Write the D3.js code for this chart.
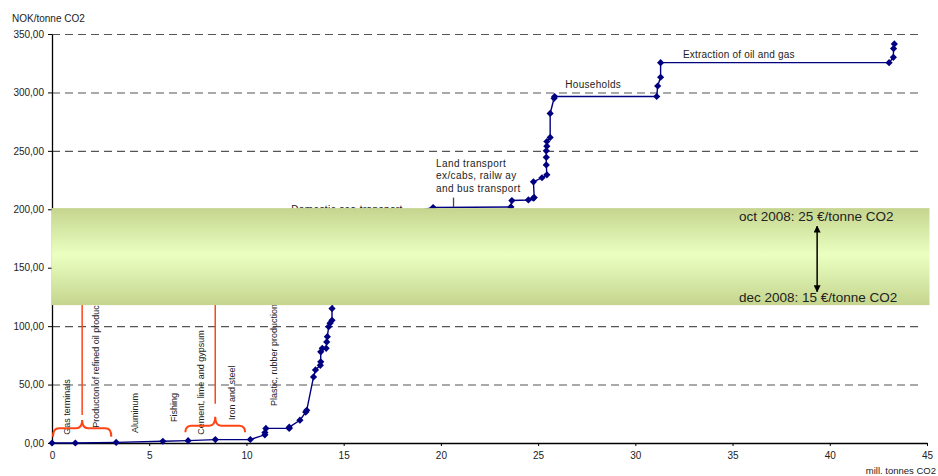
<!DOCTYPE html>
<html>
<head>
<meta charset="utf-8">
<script src="https://cdn.jsdelivr.net/npm/d3@7"></script>
<style>
  body { margin: 0; background: #fff; }
  text { font-family: "Liberation Sans", Arial, sans-serif; fill: #222; }
</style>
</head>
<body>
<script>
// Parameters
const width = 938;
const height = 476;
const margin = { top: 34, right: 11, bottom: 33, left: 52 };

// cumulative emissions (mill. tonnes CO2) and abatement cost (NOK/tonne CO2)
const emissions = [0, 1.2, 3.3, 5.7, 7.0, 8.4, 10.2, 10.95, 10.95, 11.0, 12.2, 12.2, 12.75, 13.05, 13.1,
  13.45, 13.55, 13.8, 13.82, 13.82, 13.9, 14.1, 14.13, 14.16, 14.23, 14.3, 14.4, 14.4, 14.5, 14.6, 14.8,
  15.1, 19.6, 23.6, 23.65, 24.5, 24.75, 24.8, 24.76, 25.2, 25.45, 25.42, 25.42, 25.42, 25.45, 25.45,
  25.62, 25.62, 25.82, 25.85, 31.1, 31.15, 31.3, 31.3, 43.05, 43.27, 43.28, 43.32];
const cost = [0, 0, 0.5, 1.5, 2, 2.9, 3, 7, 9, 12.5, 12.5, 13.5, 19.5, 26.5, 28,
  56.5, 62.5, 66.5, 69.5, 78, 81, 81, 86.5, 91, 99.5, 102.5, 105, 115, 125, 140, 160,
  185, 201.5, 202, 207.5, 208, 209.5, 210, 223.5, 227, 229.5, 238, 244.5, 250, 254, 258,
  261.5, 282, 295, 296.5, 296.5, 305.5, 313, 325.5, 325.5, 330, 337.5, 341.5];

const xTicks = [0, 5, 10, 15, 20, 25, 30, 35, 40, 45];
const yTicks = [0, 50, 100, 150, 200, 250, 300, 350];

// sectors written vertically near the bottom
const lowSectors = ['Gas terminals', 'Producton of refined oil products', 'Aluminum', 'Fishing',
  'Cement, lime and gypsum', 'Iron and steel', 'Plastic, rubber production'];
const lowSectorAt = [0.76, 2.25, 4.27, 6.28, 7.65, 9.24, 11.42];
const lowSectorBase = [7, 13, 8.5, 18, 7, 19.7, 31.7];

// CO2 price band (NOK/tonne)
const bandHigh = 201;
const bandLow = 118;
const bandLabels = ['oct 2008: 25 €/tonne CO2', 'dec 2008: 15 €/tonne CO2'];

const data = emissions.map((e, i) => ({ x: e, y: cost[i] }));

const svg = d3.select('body')
  .append('svg')
  .attr('width', width)
  .attr('height', height);

const x = d3.scaleLinear()
  .domain([0, 45])
  .range([margin.left, width - margin.right]);

const y = d3.scaleLinear()
  .domain([0, 350])
  .range([height - margin.bottom, margin.top]);

const loc = d3.formatLocale({ decimal: ',', thousands: ' ', grouping: [3], currency: ['', ''] });
const fmt = loc.format('.2f');

// grille
svg.append('g')
  .selectAll('line')
  .data(yTicks.filter(d => d > 0))
  .join('line')
  .attr('x1', x(0))
  .attr('x2', x(44.7))
  .attr('y1', d => y(d) + 0.5)
  .attr('y2', d => y(d) + 0.5)
  .attr('stroke', '#555')
  .attr('stroke-width', 1.1)
  .attr('stroke-dasharray', '8,5');

// axes
const xAxis = svg.append('g')
  .attr('transform', `translate(0, ${y(0)})`)
  .call(d3.axisBottom(x).tickValues(xTicks).tickSize(3).tickSizeOuter(0).tickPadding(6))
  .call(g => g.select('.domain').attr('stroke', '#000').attr('stroke-width', 1.3));
xAxis.selectAll('text').style('font-size', '10px').attr('fill', '#222');

const yAxis = svg.append('g')
  .attr('transform', `translate(${x(0)}, 0)`)
  .call(d3.axisLeft(y).tickValues(yTicks).tickFormat(fmt).tickSize(4).tickSizeOuter(0).tickPadding(4))
  .call(g => g.select('.domain').attr('stroke', '#000').attr('stroke-width', 1.3));
yAxis.selectAll('text').style('font-size', '10px').attr('fill', '#222');

svg.append('text')
  .attr('x', 12).attr('y', 22)
  .style('font-size', '10px')
  .text('NOK/tonne CO2');

svg.append('text')
  .attr('x', 936).attr('y', 474)
  .attr('text-anchor', 'end')
  .style('font-size', '9.5px')
  .text('mill. tonnes CO2');

// courbe
svg.append('path')
  .datum(data)
  .attr('fill', 'none')
  .attr('stroke', '#000080')
  .attr('stroke-width', 1.4)
  .attr('d', d3.line().x(d => x(d.x)).y(d => y(d.y)));

svg.append('g')
  .selectAll('path')
  .data(data)
  .join('path')
  .attr('transform', d => `translate(${x(d.x)}, ${y(d.y)}) rotate(45)`)
  .attr('d', d3.symbol(d3.symbolSquare, 26))
  .attr('fill', '#000080');

// vertical sector labels
svg.append('g')
  .selectAll('text')
  .data(lowSectors)
  .join('text')
  .attr('transform', (d, i) => `translate(${x(lowSectorAt[i]) + 3}, ${y(lowSectorBase[i])}) rotate(-90)`)
  .style('font-size', '9px')
  .text(d => d);

// horizontal sector labels
svg.append('g')
  .selectAll('text')
  .data(['Land transport', 'ex/cabs, railw ay', 'and bus transport'])
  .join('text')
  .attr('x', x(19.75))
  .attr('y', (d, i) => y(236.5) + i * 12.5)
  .style('font-size', '10px')
  .style('letter-spacing', '0.4px')
  .text(d => d);

svg.append('line')
  .attr('x1', x(20.65)).attr('x2', x(20.65))
  .attr('y1', y(210)).attr('y2', y(202))
  .attr('stroke', '#444').attr('stroke-width', 1.3);

svg.append('text')
  .attr('x', x(26.4)).attr('y', y(303.8))
  .style('font-size', '10px')
  .style('letter-spacing', '0.3px')
  .text('Households');

svg.append('text')
  .attr('x', x(32.45)).attr('y', y(329.2))
  .style('font-size', '10px')
  .style('letter-spacing', '0.2px')
  .text('Extraction of oil and gas');

svg.append('text')
  .attr('x', x(12.3)).attr('y', y(197))
  .style('font-size', '10px')
  .style('letter-spacing', '0.4px')
  .text('Domestic sea transport');

// accolades rouges
const brace = (x0, x1, yEnd, yH, yPeak) => {
  const xm = (x0 + x1) / 2, r = 6;
  return `M${x0},${yEnd} Q${x0},${yH} ${x0 + r},${yH} L${xm - r},${yH} Q${xm},${yH} ${xm},${yPeak}`
    + ` Q${xm},${yH} ${xm + r},${yH} L${x1 - r},${yH} Q${x1},${yH} ${x1},${yEnd}`;
};

const braces = [
  { a: 0.05, b: 3.05, end: 5.4, h: 12.6, peak: 19.7, top: 24 },
  { a: 6.86, b: 9.93, end: 9.2, h: 14.8, peak: 22.5, top: 33.5 }
];

svg.append('g')
  .selectAll('path')
  .data(braces)
  .join('path')
  .attr('d', d => brace(x(d.a), x(d.b), y(d.end), y(d.h), y(d.peak)))
  .attr('fill', 'none')
  .attr('stroke', '#ff4515')
  .attr('stroke-width', 2);

svg.append('g')
  .selectAll('line')
  .data(braces)
  .join('line')
  .attr('x1', d => x((d.a + d.b) / 2)).attr('x2', d => x((d.a + d.b) / 2))
  .attr('y1', d => y(d.top)).attr('y2', y(bandLow + 5))
  .attr('stroke', '#ff4515')
  .attr('stroke-width', 1.5);

// bande du prix CO2
const grad = svg.append('defs').append('linearGradient')
  .attr('id', 'band').attr('x1', 0).attr('x2', 0).attr('y1', 0).attr('y2', 1);
grad.append('stop').attr('offset', '0%').attr('stop-color', '#c5d58e');
grad.append('stop').attr('offset', '48%').attr('stop-color', '#eaffc1');
grad.append('stop').attr('offset', '100%').attr('stop-color', '#c5d58e');

svg.append('rect')
  .attr('x', x(0) - 0.5)
  .attr('width', 930 - x(0))
  .attr('y', y(bandHigh))
  .attr('height', y(bandLow) - y(bandHigh))
  .attr('fill', 'url(#band)');

svg.append('g')
  .selectAll('text')
  .data(bandLabels)
  .join('text')
  .attr('x', x(35.33))
  .attr('y', (d, i) => i === 0 ? y(bandHigh) + 12.5 : y(bandLow) - 3.5)
  .style('font-size', '13.5px')
  .attr('fill', '#000')
  .text(d => d);

// double flèche
const arr = svg.select('defs').append('marker')
  .attr('id', 'tip').attr('viewBox', '0 0 10 10')
  .attr('refX', 9).attr('refY', 5)
  .attr('markerWidth', 7).attr('markerHeight', 7)
  .attr('markerUnits', 'userSpaceOnUse')
  .attr('orient', 'auto-start-reverse');
arr.append('path').attr('d', 'M0,0 L10,5 L0,10 Z').attr('fill', '#000');

svg.append('line')
  .attr('x1', x(39.35)).attr('x2', x(39.35))
  .attr('y1', y(185.5)).attr('y2', y(129.5))
  .attr('stroke', '#000').attr('stroke-width', 1.5)
  .attr('marker-start', 'url(#tip)')
  .attr('marker-end', 'url(#tip)');
</script>
</body>
</html>
